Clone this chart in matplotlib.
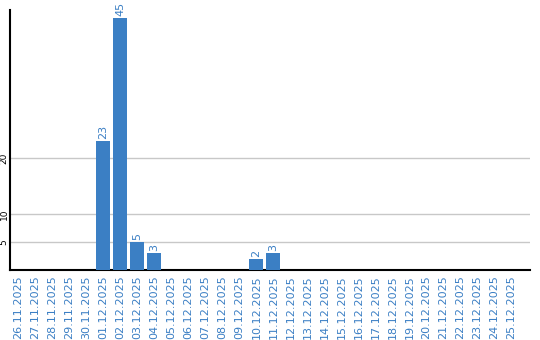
import matplotlib
matplotlib.use("Agg")
import matplotlib.pyplot as plt
from datetime import date, timedelta

# dates 26.11.2025 .. 25.12.2025
start = date(2025, 11, 26)
dates = [(start + timedelta(days=i)).strftime("%d.%m.%Y") for i in range(30)]
values = [0, 0, 0, 0, 0, 23, 45, 5, 3, 0, 0, 0, 0, 0, 2, 3,
          0, 0, 0, 0, 0, 0, 0, 0, 0, 0, 0, 0, 0, 0]
yticks = [5, 10, 20]

blue = "#3b7fc4"

fig = plt.figure(figsize=(5.4, 3.4), dpi=100)
ax = fig.add_axes([10 / 540, 70 / 340, 520 / 540, 260 / 340])

x = list(range(len(dates)))
ax.bar(x, values, width=0.82, color=blue, zorder=3)

for xi, v in zip(x, values):
    if v > 0:
        ax.text(xi, v + 0.4, str(v), rotation=90, ha="center", va="bottom",
                color=blue, fontsize=8)

ax.set_xlim(-0.5, 30.1)
ax.set_ylim(0, 46.4)
ax.set_yticks(yticks)
ax.set_yticklabels([str(t) for t in yticks], rotation=90, va="center",
                   ha="right", fontsize=6.5)
ax.set_xticks(x)
ax.set_xticklabels(dates, rotation=90, color=blue, fontsize=8)
ax.tick_params(axis="y", length=0, pad=1)
ax.tick_params(axis="x", length=0, pad=4)

ax.grid(axis="y", color="#c8c8c8", linewidth=1, zorder=0)
for s in ["top", "right"]:
    ax.spines[s].set_visible(False)
ax.spines["left"].set_linewidth(1.5)
ax.spines["bottom"].set_linewidth(1.5)

fig.savefig("out.png", dpi=100)
